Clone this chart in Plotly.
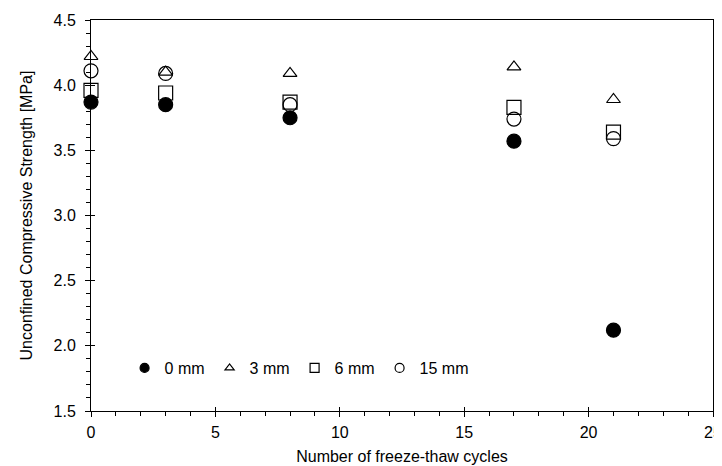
import plotly.graph_objects as go

cycles = [0, 3, 8, 17, 21]
ucs_0mm = [3.87, 3.85, 3.75, 3.57, 2.12]
ucs_3mm = [4.22, 4.10, 4.09, 4.14, 3.89]
ucs_6mm = [3.96, 3.94, 3.87, 3.83, 3.64]
ucs_15mm = [4.11, 4.09, 3.85, 3.74, 3.59]

series_names = ["0 mm", "3 mm", "6 mm", "15 mm"]
series_vals = [ucs_0mm, ucs_3mm, ucs_6mm, ucs_15mm]
symbols = ["circle", "triangle-up-open", "square-open", "circle-open"]
plot_sizes = [14, 12, 14, 14]
legend_sizes = [9, 8, 9, 9]

FONT = "Liberation Sans, Arial, sans-serif"
fig = go.Figure()

# data traces (open markers first, filled on top)
for i in [1, 2, 3, 0]:
    fig.add_trace(go.Scatter(
        x=cycles, y=series_vals[i], mode="markers", showlegend=False,
        cliponaxis=False,
        marker=dict(symbol=symbols[i], size=plot_sizes[i], color="black",
                    line=dict(color="black", width=1.2)),
    ))

# legend-only traces with smaller symbols
for i in range(4):
    fig.add_trace(go.Scatter(
        x=[None], y=[None], mode="markers", name=series_names[i],
        marker=dict(symbol=symbols[i], size=legend_sizes[i], color="black",
                    line=dict(color="black", width=1.2)),
    ))

# invisible trace on overlay axes (for inner half of major ticks)
fig.add_trace(go.Scatter(x=[None], y=[None], xaxis="x2", yaxis="y2",
                         showlegend=False, hoverinfo="skip"))

axis_common = dict(showgrid=False, zeroline=False, linecolor="black",
                   linewidth=1, tickcolor="black", automargin=False,
                   ticklabeloverflow="allow",
                   tickfont=dict(family=FONT, size=16, color="black"))

# page body has an 8px default margin, so the figure is 8px smaller
fig.update_layout(
    width=714, height=458,
    margin=dict(l=83, r=9, t=12, b=55),
    paper_bgcolor="white", plot_bgcolor="white",
    font=dict(family=FONT, size=16, color="black"),
    xaxis=dict(range=[0, 25], dtick=5, tick0=0, showline=True, mirror=True,
               ticks="outside", ticklen=5, tickwidth=1, ticklabelstandoff=2,
               minor=dict(dtick=1, ticks="outside", ticklen=4, tickcolor="black", tickwidth=1),
               title=dict(text="Number of freeze-thaw cycles", standoff=10,
                          font=dict(family=FONT, size=16)),
               **axis_common),
    yaxis=dict(range=[1.5, 4.5], dtick=0.5, tick0=1.5, tickformat=".1f",
               showline=True, mirror=True,
               ticks="outside", ticklen=5, tickwidth=1, ticklabelstandoff=6,
               minor=dict(dtick=0.1, ticks="outside", ticklen=4, tickcolor="black", tickwidth=1),
               title=dict(text="Unconfined Compressive Strength [MPa]", standoff=16,
                          font=dict(family=FONT, size=16)),
               **axis_common),
    xaxis2=dict(overlaying="x", range=[0, 25], dtick=5, tick0=0, ticks="inside",
                ticklen=4, tickcolor="black", showticklabels=False, showgrid=False,
                zeroline=False, showline=False, side="bottom", anchor="y2",
                automargin=False),
    yaxis2=dict(overlaying="y", range=[1.5, 4.5], dtick=0.5, tick0=1.5, ticks="inside",
                ticklen=4, tickcolor="black", showticklabels=False, showgrid=False,
                zeroline=False, showline=False, side="left", anchor="x2",
                automargin=False),
    legend=dict(orientation="h", x=0.054, y=0.11, xanchor="left", yanchor="middle",
                bgcolor="rgba(0,0,0,0)",
                font=dict(family=FONT, size=16, color="black")),
)

fig.write_html("out.html")
